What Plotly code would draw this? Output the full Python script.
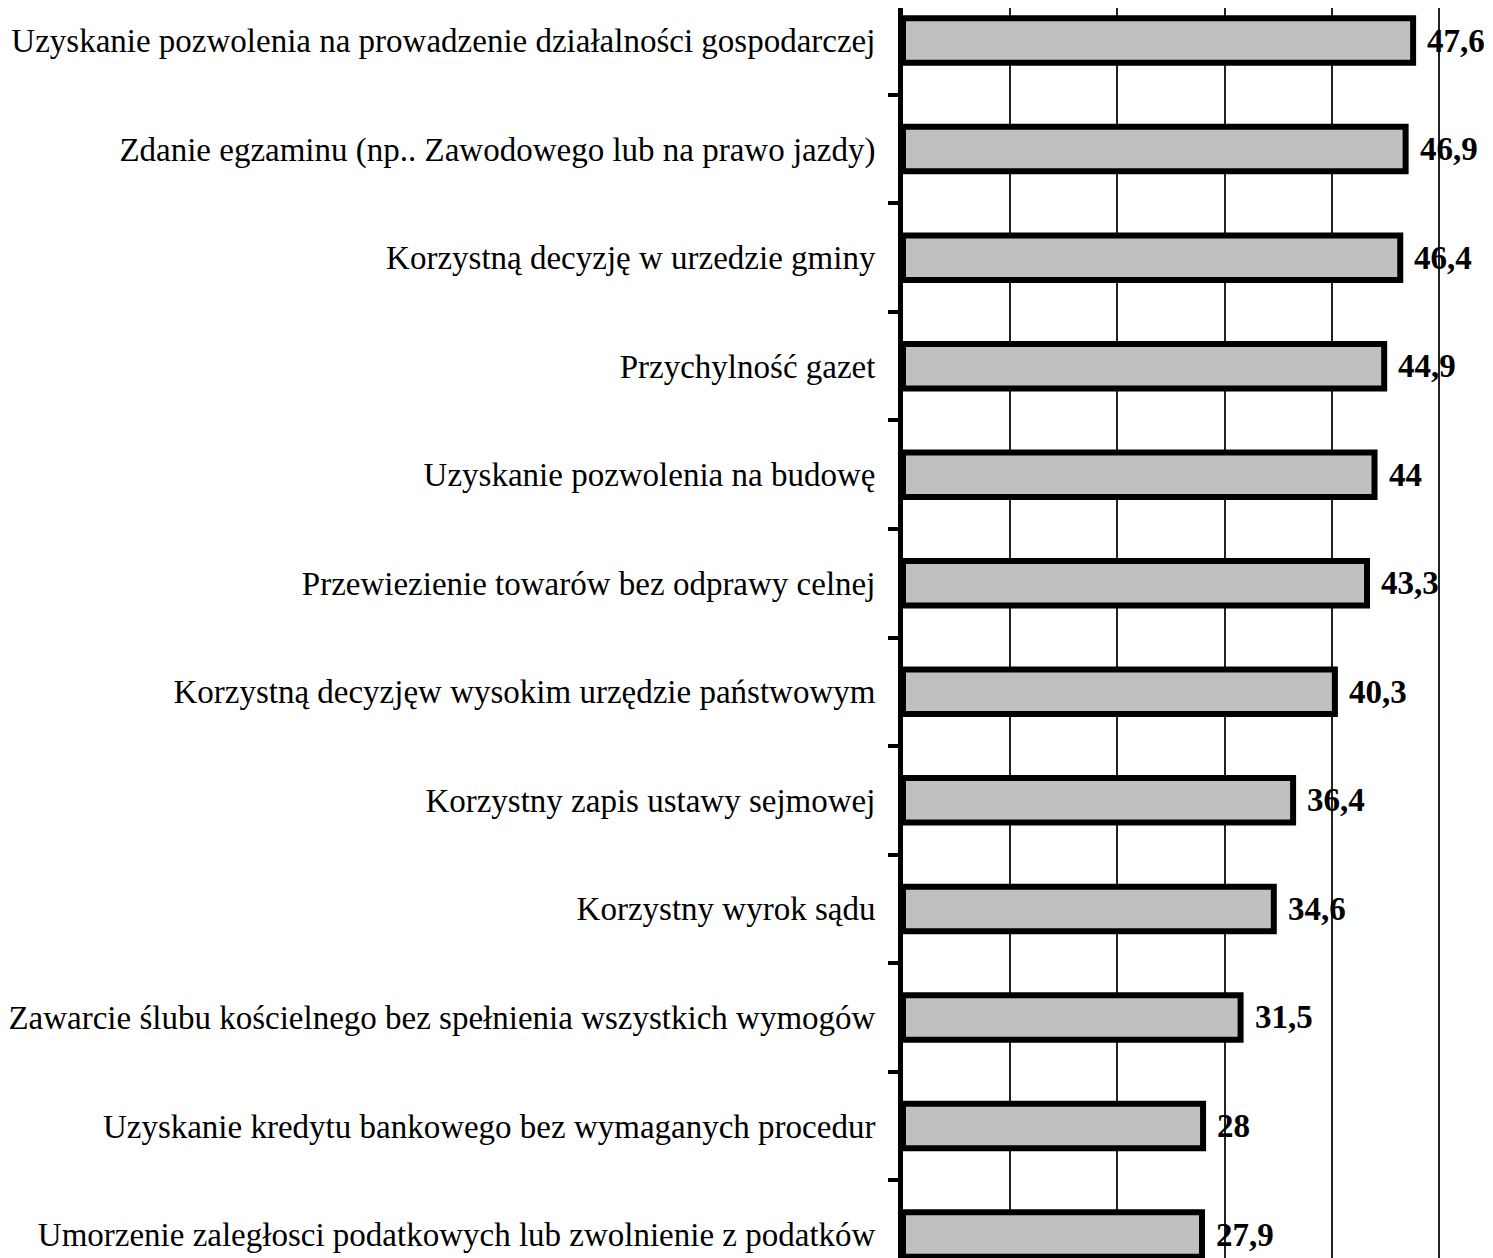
import plotly.graph_objects as go

categories = [
    "Uzyskanie pozwolenia na prowadzenie działalności gospodarczej",
    "Zdanie egzaminu (np.. Zawodowego lub na prawo jazdy)",
    "Korzystną decyzję w urzedzie gminy",
    "Przychylność gazet",
    "Uzyskanie pozwolenia na budowę",
    "Przewiezienie towarów bez odprawy celnej",
    "Korzystną decyzjęw wysokim urzędzie państwowym",
    "Korzystny zapis ustawy sejmowej",
    "Korzystny wyrok sądu",
    "Zawarcie ślubu kościelnego bez spełnienia wszystkich wymogów",
    "Uzyskanie kredytu bankowego bez wymaganych procedur",
    "Umorzenie zaległosci podatkowych lub zwolnienie z podatków",
]
values = [47.6, 46.9, 46.4, 44.9, 44.0, 43.3, 40.3, 36.4, 34.6, 31.5, 28.0, 27.9]
value_labels = ["47,6", "46,9", "46,4", "44,9", "44", "43,3", "40,3",
                "36,4", "34,6", "31,5", "28", "27,9"]

fig = go.Figure()
fig.add_trace(go.Bar(
    x=values, y=categories, orientation="h",
    width=0.41,
    marker=dict(color="#c0c0c0", line=dict(color="black", width=6)),
    hoverinfo="x+y",
))

for cat, val, lab in zip(categories, values, value_labels):
    fig.add_annotation(
        x=val, y=cat, text=f"<b>{lab}</b>", showarrow=False,
        xanchor="left", yanchor="middle", xshift=12,
        font=dict(family="Liberation Serif", size=33, color="black"),
    )

# page body adds an 8px margin, so margins are offset by that
fig.update_layout(
    width=1493, height=1258,
    margin=dict(l=890, r=0, t=0, b=0),
    plot_bgcolor="white", paper_bgcolor="white",
    showlegend=False,
    font=dict(family="Liberation Serif", size=33, color="black"),
)
fig.update_xaxes(
    range=[0, 55.8], dtick=10, showgrid=True, gridcolor="#222222", gridwidth=1.5,
    showticklabels=False, zeroline=False, showline=False, fixedrange=True,
)
fig.update_yaxes(
    type="category", categoryorder="array", categoryarray=categories,
    range=[11.29, -0.30],
    showgrid=False, showline=True, linecolor="black", linewidth=5,
    ticks="outside", tickson="boundaries", ticklen=10, tickwidth=4, tickcolor="black",
    ticklabelstandoff=16,
    tickfont=dict(family="Liberation Serif", size=33, color="black"),
)

fig.write_html("out.html")
